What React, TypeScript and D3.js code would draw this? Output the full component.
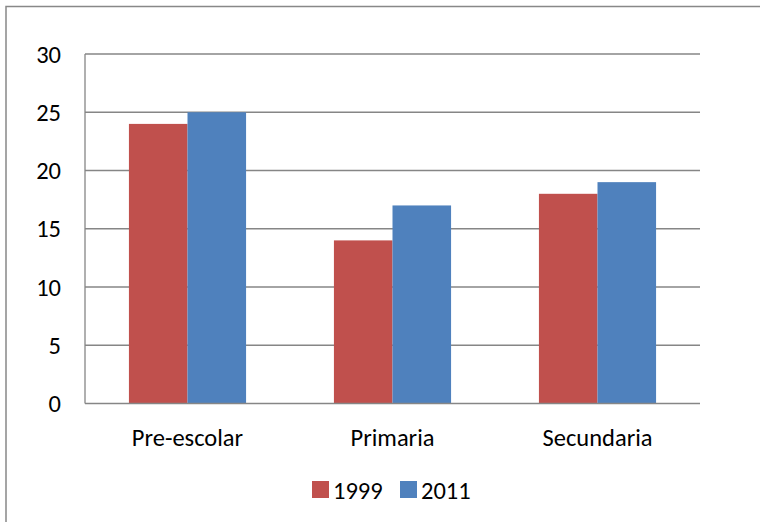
import React from "react";
import * as d3 from "d3";

const categories = ["Pre-escolar", "Primaria", "Secundaria"];
const seriesNames = ["1999", "2011"];
const values1999 = [24, 14, 18];
const values2011 = [25, 17, 19];
const yTicks = [0, 5, 10, 15, 20, 25, 30];
const colors = ["#C0504D", "#4F81BD"];

const W = 760;
const H = 522;
const FONT = "Carlito, Calibri, 'Liberation Sans', Arial, sans-serif";
const FS = 24.5;

export default function App() {
  const left = 85, right = 700, top = 54, bottom = 403.5;
  const x0 = d3.scaleBand<string>().domain(categories).range([left, right]).paddingInner(0).paddingOuter(0);
  const x1 = d3.scaleBand<string>().domain(seriesNames).range([0, x0.bandwidth()]).paddingInner(0).paddingOuter(0.75);
  const y = d3.scaleLinear().domain([0, 30]).range([bottom, top]);
  const series = [values1999, values2011];

  return (
    <svg width={W} height={H} style={{ position: "absolute", left: 0, top: 0 }} fontFamily={FONT}>
      <rect x={0} y={0} width={W} height={H} fill="#fff" />
      <rect x={6} y={6.5} width={W + 10} height={H + 10} fill="none" stroke="#888" strokeWidth={1.5} />
      {yTicks.map((t) => (
        <g key={t}>
          {t > 0 && <line x1={left} x2={right} y1={y(t)} y2={y(t)} stroke="#868686" strokeWidth={1.3} />}
          <text x={61} y={y(t)} dy="0.35em" textAnchor="end" fontSize={FS} fill="#000">{t}</text>
        </g>
      ))}
      {categories.map((c, ci) => (
        <g key={c}>
          {seriesNames.map((s, si) => {
            const v = series[si][ci];
            const bx = (x0(c) as number) + (x1(s) as number);
            return (
              <rect key={s} x={bx} y={y(v)} width={x1.bandwidth()} height={bottom - y(v)} fill={colors[si]} />
            );
          })}
          <text x={(x0(c) as number) + x0.bandwidth() / 2} y={437} dy="0.35em" textAnchor="middle" fontSize={FS} fill="#000">{c}</text>
        </g>
      ))}
      <line x1={left} x2={left} y1={top} y2={bottom} stroke="#868686" strokeWidth={1.3} />
      <line x1={left} x2={right} y1={bottom} y2={bottom} stroke="#868686" strokeWidth={1.3} />
      {seriesNames.map((s, si) => {
        const lx = 312 + si * 88;
        return (
          <g key={s}>
            <rect x={lx} y={481} width={17} height={17} fill={colors[si]} />
            <text x={lx + 21} y={490} dy="0.35em" fontSize={FS} fill="#000">{s}</text>
          </g>
        );
      })}
    </svg>
  );
}
